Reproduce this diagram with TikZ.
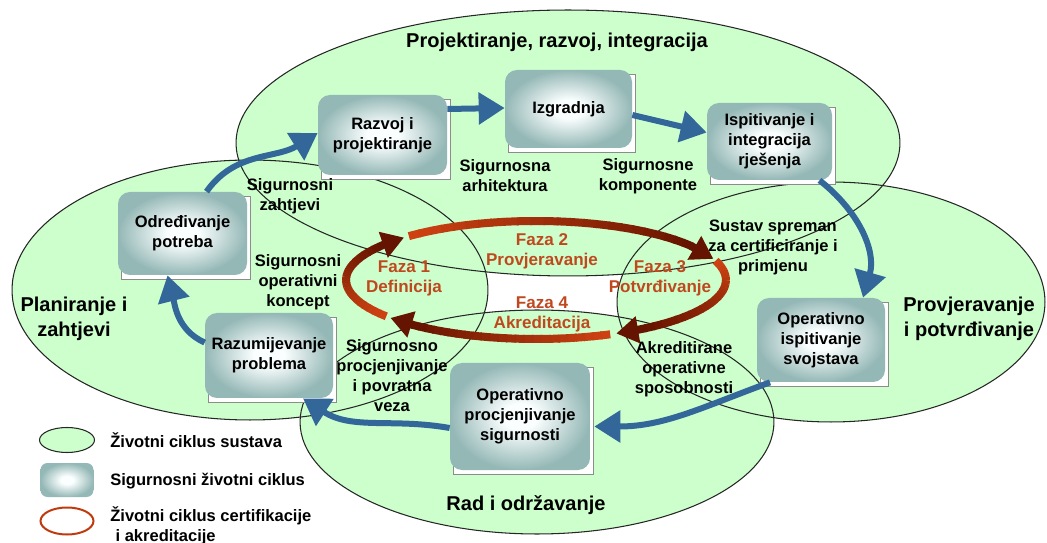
\documentclass[tikz,border=0pt]{standalone}
\usepackage{fontspec}
\setmainfont{Liberation Sans}
\usetikzlibrary{arrows.meta,calc}

\definecolor{lifegreen}{RGB}{204,255,204}
\definecolor{boxedge}{RGB}{148,184,182}
\definecolor{boxcore}{RGB}{250,254,254}
\definecolor{flowblue}{RGB}{51,102,153}
\definecolor{ringlight}{RGB}{206,66,18}
\definecolor{ringdark}{RGB}{100,20,0}
\definecolor{fazatext}{RGB}{192,72,30}

% soft white core fading into the teal edge of a step box
\pgfdeclareradialshading{secshade}{\pgfpoint{0bp}{0bp}}{%
  color(0bp)=(boxcore); color(6bp)=(boxcore); color(25bp)=(boxedge); color(50bp)=(boxedge)}

\newcommand\boxfont{\fontsize{9.4}{11.4}\selectfont\bfseries}
\newcommand\bigfont{\fontsize{11.4}{13.9}\selectfont\bfseries}
\newcommand\fazafont{\fontsize{9.7}{11.4}\selectfont\bfseries}

% security-lifecycle step: offset paper frame behind a shaded rounded box
\newcommand\secnode[6]{%
  \node[secframe, minimum width=#4*0.02cm, minimum height=#5*0.02cm] (#1-frame) at ({#2+3.5},{#3+4}) {};
  \node[secbox, minimum width=#4*0.02cm, minimum height=#5*0.02cm] (#1) at (#2,#3) {#6};
}

% one quarter of the certification ring: shaded stroke, then its head
\newcommand\ringpart[3]{%
  \foreach \k in {0,...,23}{%
    \pgfmathsetmacro\ta{#1+(#2-#1)*\k/24}%
    \pgfmathsetmacro\tb{#1+(#2-#1)*(\k+1)/24-0.5}%
    \pgfmathtruncatemacro\pc{100*\k/23}%
    \draw[ringstroke, ringdark!\pc!ringlight]
      ({536+190*cos(\ta)},{280-59*sin(\ta)})
      arc[start angle=\ta, end angle=\tb, x radius=3.8cm, y radius=1.18cm];
  }%
  \draw[ringstroke, ringdark, -{Triangle[length=0.44cm,width=0.52cm]}]
    ({536+190*cos(#2)},{280-59*sin(#2)}) -- ({536+190*cos(#3)},{280-59*sin(#3)});
}

\begin{document}
\begin{tikzpicture}[x=0.02cm, y=-0.02cm,
  lifecycle/.style={fill=lifegreen},
  lifeedge/.style={draw=black!85, line width=0.6pt},
  secbox/.style={rounded corners=0.24cm, shade, shading=secshade,
                 align=center, font=\boxfont, inner sep=0pt},
  secframe/.style={draw=black!45, fill=white, line width=0.4pt, inner sep=0pt},
  flow/.style={draw=flowblue, line width=0.12cm, -{Triangle[length=0.52cm,width=0.62cm]}},
  ringstroke/.style={line width=0.16cm},
  biglabel/.style={font=\bigfont, align=center, inner sep=0pt},
  steplabel/.style={font=\boxfont, align=center, inner sep=0pt},
  fazalabel/.style={font=\fazafont, text=fazatext, align=center, inner sep=0pt},
  keylabel/.style={font=\boxfont, align=left, anchor=west, inner sep=0pt},
]
\useasboundingbox (0,0) rectangle (1047,543);

% system lifecycle phases
\fill[lifecycle] (568,143) ellipse [x radius=6.64cm, y radius=2.66cm];
\fill[lifecycle] (250,290) ellipse [x radius=4.76cm, y radius=2.6cm];
\fill[lifecycle] (831,302) ellipse [x radius=4.28cm, y radius=2.4cm];
\fill[lifecycle] (537,422) ellipse [x radius=4.74cm, y radius=2.24cm];
\draw[lifeedge] (568,143) ellipse [x radius=6.64cm, y radius=2.66cm];
\draw[lifeedge] (250,290) ellipse [x radius=4.76cm, y radius=2.6cm];
\draw[lifeedge] (831,302) ellipse [x radius=4.28cm, y radius=2.4cm];
\draw[lifeedge] (537,422) ellipse [x radius=4.74cm, y radius=2.24cm];

% security lifecycle steps
\secnode{odr}{182.5}{233.5}{129}{83}{Određivanje\\potreba}
\secnode{raz}{382.5}{135}{129}{80}{Razvoj i\\projektiranje}
\secnode{izg}{568.5}{109}{127}{78}{Izgradnja}
\secnode{isp}{769.5}{141.5}{125}{77}{Ispitivanje i\\integracija\\rješenja}
\secnode{razum}{269}{355.5}{128}{85}{Razumijevanje\\problema}
\secnode{opisp}{821}{340}{128}{84}{Operativno\\ispitivanje\\svojstava}
\secnode{opproc}{520}{416.5}{140}{107}{Operativno\\procjenjivanje\\sigurnosti}

% flow between the steps
\draw[flow] ($(razum.west)+(0,-13)$) to[out=156, in=-76] ($(odr.south)+(-15,0)$);
\draw[flow] ($(odr.north)+(24,0)$) to[out=55, in=-148] ($(raz.west)+(0,-2)$);
\draw[flow] ($(raz.east)+(0,-26)$) -- ($(izg.west)+(0,-1)$);
\draw[flow] ($(izg.east)+(0,6)$) -- ($(isp.west)+(0,-9)$);
\draw[flow] ($(isp.south)+(50,0)$) to[out=-38, in=74] ($(opisp.north)+(42,0)$);
\draw[flow] ($(opisp.south)+(-51,0)$) to[out=200, in=0] ($(opproc.east)+(4,10)$);
\draw[flow] ($(opproc.west)+(0,11.5)$) to[out=170, in=-33] ($(razum.south)+(34,0)$);

% certification and accreditation ring
\ringpart{218}{142.8}{134}
\ringpart{132}{35.4}{21}
\ringpart{19}{-57.8}{-65}
\ringpart{-67}{-130.3}{-140}

% phase titles
\node[biglabel] (t-top) at (557,42) {Projektiranje, razvoj, integracija};
\node[biglabel] (t-left) at (74,319) {Planiranje i\\zahtjevi};
\node[biglabel] (t-right) at (969,319) {Provjeravanje\\i potvrđivanje};
\node[biglabel] (t-bot) at (526,505) {Rad i održavanje};

% artefacts passed between steps
\node[steplabel] (l-arh) at (505,176) {Sigurnosna\\arhitektura};
\node[steplabel] (l-komp) at (648,176) {Sigurnosne\\komponente};
\node[steplabel] (l-zaht) at (290,196) {Sigurnosni\\zahtjevi};
\node[steplabel] (l-konc) at (298,282) {Sigurnosni\\operativni\\koncept};
\node[steplabel] (l-povr) at (392,376) {Sigurnosno\\procjenjivanje\\i povratna\\veza};
\node[steplabel] (l-spr) at (773,247) {Sustav spreman\\za certificiranje i\\primjenu};
\node[steplabel] (l-akr) at (684,369) {Akreditirane\\operativne\\sposobnosti};

% certification phases
\node[fazalabel] (f1) at (404,278) {Faza 1\\Definicija};
\node[fazalabel] (f2) at (542,251) {Faza 2\\Provjeravanje};
\node[fazalabel] (f3) at (660,278) {Faza 3\\Potvrđivanje};
\node[fazalabel] (f4) at (542,314) {Faza 4\\Akreditacija};

% key
\fill[lifecycle] (67,440) ellipse [x radius=0.55cm, y radius=0.25cm];
\draw[lifeedge] (67,440) ellipse [x radius=0.55cm, y radius=0.25cm];
\node[secbox, minimum width=53*0.02cm, minimum height=34*0.02cm, rounded corners=0.14cm] (key-box) at (67,480) {};
\draw[ringlight!85!ringdark, line width=0.04cm] (67,521) ellipse [x radius=0.53cm, y radius=0.27cm];
\node[keylabel] (k1) at (110,440) {Životni ciklus sustava};
\node[keylabel] (k2) at (110,481) {Sigurnosni životni ciklus};
\node[keylabel] (k3) at (110,526) {Životni ciklus certifikacije\\\hspace{3pt}i akreditacije};
\end{tikzpicture}
\end{document}
